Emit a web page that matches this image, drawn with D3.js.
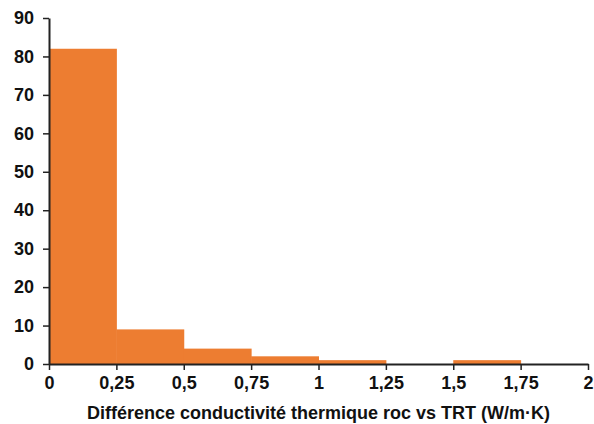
<!DOCTYPE html>
<html><head><meta charset="utf-8">
<script src="https://cdn.jsdelivr.net/npm/d3@7"></script>
<style>html,body{margin:0;padding:0;background:#fff;}</style>
</head><body>
<svg id="c" width="594" height="424"></svg>
<script>
const binStarts = [0, 0.25, 0.5, 0.75, 1, 1.25, 1.5, 1.75];
const binWidth = 0.25;
const counts = [82, 9, 4, 2, 1, 0, 1, 0];
const xTicks = [0, 0.25, 0.5, 0.75, 1, 1.25, 1.5, 1.75, 2];
const yTicks = [0, 10, 20, 30, 40, 50, 60, 70, 80, 90];
const xTitle = "Différence conductivité thermique roc vs TRT (W/m·K)";

const svg = d3.select("#c");
const x = d3.scaleLinear().domain([0, 2]).range([49, 588]);
const y = d3.scaleLinear().domain([0, 90]).range([364, 18]);
const font = "'Liberation Sans', Arial, sans-serif";

svg.selectAll("rect.bar").data(binStarts).enter().append("rect")
  .attr("class","bar")
  .attr("x", d => x(d))
  .attr("width", d => x(d + binWidth) - x(d) + 0.5)
  .attr("y", (d,i) => y(counts[i]))
  .attr("height", (d,i) => y(0) - y(counts[i]))
  .attr("fill", "#ED7D31");

const fmt = d => String(d).replace(".", ",");
const xAxis = svg.append("g").attr("transform", `translate(0,${y(0)})`)
  .call(d3.axisBottom(x).tickValues(xTicks).tickFormat(fmt).tickSize(6).tickSizeOuter(0));
const yAxis = svg.append("g").attr("transform", `translate(${x(0)},0)`)
  .call(d3.axisLeft(y).tickValues(yTicks).tickSize(6).tickSizeOuter(0));

[xAxis, yAxis].forEach(g => {
  g.selectAll("path.domain").attr("stroke", "#222").attr("stroke-width", 2);
  g.selectAll(".tick line").attr("stroke", "#222").attr("stroke-width", 1.5);
  g.selectAll("text").attr("font-family", font).attr("font-weight", "bold")
    .attr("font-size", 18).attr("fill", "#111");
});
xAxis.selectAll("text").attr("y", 8).attr("dy", "0.95em");
yAxis.selectAll("text").attr("x", -15);

svg.append("text").attr("x", (x(0)+x(2))/2).attr("y", 419)
  .attr("text-anchor", "middle").attr("font-family", font).attr("font-weight", "bold")
  .attr("font-size", 18).attr("fill", "#111").text(xTitle);
</script>
</body></html>
